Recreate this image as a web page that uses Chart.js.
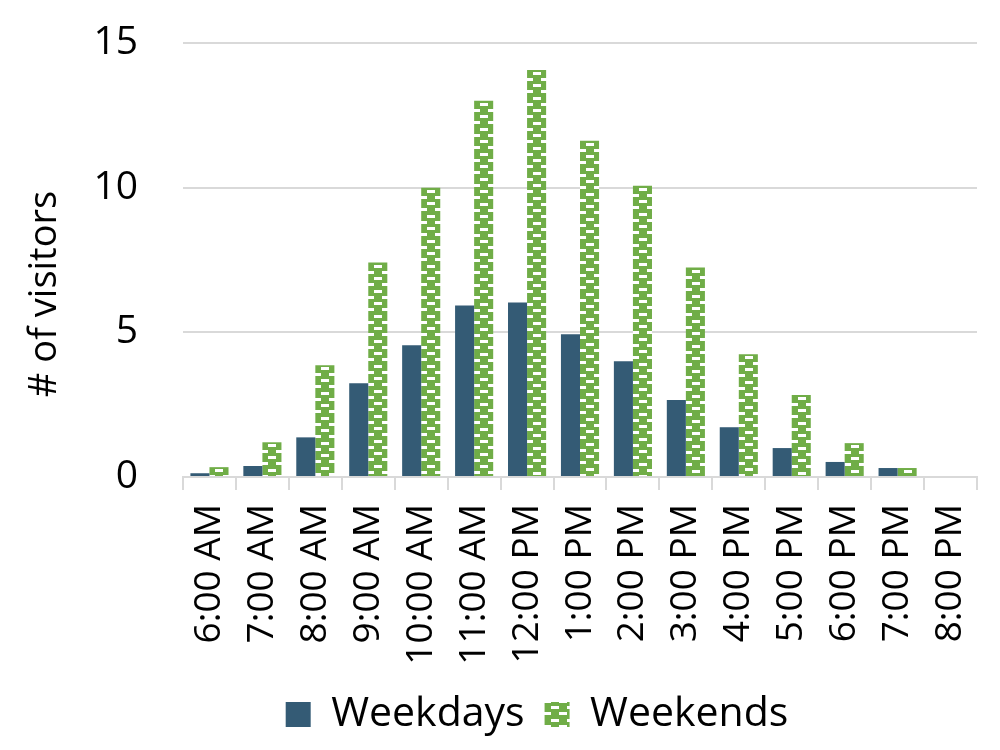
<!DOCTYPE html>
<html>
<head>
<meta charset="utf-8">
<script src="https://cdn.jsdelivr.net/npm/chart.js@4.4.1/dist/chart.umd.min.js"></script>
<style>
  html, body { margin: 0; padding: 0; background: #fff; }
  #wrap { width: 1000px; height: 750px; }
</style>
</head>
<body>
<div id="wrap"><canvas id="myChart" width="1000" height="750"></canvas></div>
<script>
const hours = ['6:00 AM', '7:00 AM', '8:00 AM', '9:00 AM', '10:00 AM', '11:00 AM', '12:00 PM',
  '1:00 PM', '2:00 PM', '3:00 PM', '4:00 PM', '5:00 PM', '6:00 PM', '7:00 PM', '8:00 PM'];
const weekdays = [0.13, 0.38, 1.37, 3.24, 4.55, 5.93, 6.03, 4.93, 4.0, 2.66, 1.72, 1.0, 0.52, 0.31, 0];
const weekends = [0.34, 1.2, 3.86, 7.41, 10.0, 13.0, 14.07, 11.62, 10.07, 7.24, 4.24, 2.83, 1.17, 0.31, 0];
const yTicks = [0, 5, 10, 15];

const FONT = "'Open Sans', sans-serif";
const GREEN = '#70ad47';
const BLUE = '#345b75';
const GRID = '#d9d9d9';

// brick-like tile: green with offset white dashes
function makeTile() {
  const c = document.createElement('canvas');
  c.width = 16;
  c.height = 25;
  const g = c.getContext('2d');
  g.fillStyle = GREEN;
  g.fillRect(0, 0, 16, 25);
  g.fillStyle = '#fff';
  [[2, 6], [8, 14], [14, 6], [20, 14]].forEach(([y, x]) => {
    g.fillRect(x, y, 8, 3);
    if (x + 8 > 16) g.fillRect(x - 16, y, 8, 3);
  });
  return c;
}
const tile = makeTile();

function brickFill(context) {
  const chart = context.chart;
  const pattern = chart.ctx.createPattern(tile, 'repeat');
  if (context.type === 'data' && chart.scales.x && chart.scales.y) {
    const left = chart.scales.x.getPixelForValue(context.dataIndex);
    const top = chart.scales.y.getPixelForValue(weekends[context.dataIndex]);
    pattern.setTransform(new DOMMatrix().translate(Math.round(left), Math.round(top)));
  }
  return pattern;
}

const yTitle = {
  id: 'yTitle',
  afterDraw(chart) {
    const { ctx } = chart;
    ctx.save();
    ctx.translate(45, 294);
    ctx.rotate(-Math.PI / 2);
    ctx.font = `38px ${FONT}`;
    ctx.fillStyle = '#000';
    ctx.textAlign = 'center';
    ctx.textBaseline = 'middle';
    ctx.fillText('# of visitors', 0, 0);
    ctx.restore();
  },
};

const ctx = document.getElementById('myChart').getContext('2d');
const chart = new Chart(ctx, {
  type: 'bar',
  data: {
    labels: hours,
    datasets: [{
      label: 'Weekdays',
      data: weekdays,
      backgroundColor: BLUE,
      borderWidth: 0,
    }, {
      label: 'Weekends',
      data: weekends,
      backgroundColor: brickFill,
      borderWidth: 0,
    }],
  },
  options: {
    responsive: false,
    animation: false,
    categoryPercentage: 0.72,
    barPercentage: 1,
    layout: { padding: { left: 97, right: 23, top: 43, bottom: 5 } },
    plugins: {
      tooltip: { enabled: false },
      legend: {
        position: 'bottom',
        labels: {
          boxWidth: 25,
          boxHeight: 25,
          padding: 20,
          color: '#000',
          font: { family: FONT, size: 41 },
        },
      },
    },
    scales: {
      x: {
        offset: true,
        afterFit(scale) {
          scale.height = 197;
          scale.paddingLeft = 0;
          scale.paddingRight = 0;
        },
        grid: {
          offset: true,
          drawOnChartArea: false,
          drawTicks: true,
          tickLength: 13,
          color: GRID,
          lineWidth: 2,
        },
        border: { display: true, color: GRID, width: 2 },
        ticks: {
          autoSkip: false,
          minRotation: 90,
          maxRotation: 90,
          padding: 14,
          color: '#000',
          font: { family: FONT, size: 37 },
        },
      },
      y: {
        min: 0,
        max: 15,
        afterFit(scale) {
          scale.width = 183 - 97;
          scale.paddingTop = 0;
          scale.paddingBottom = 0;
        },
        afterBuildTicks(scale) { scale.ticks = yTicks.map((v) => ({ value: v })); },
        grid: { color: GRID, lineWidth: 2, drawTicks: false },
        border: { display: false },
        ticks: {
          padding: 45,
          color: '#000',
          font: { family: FONT, size: 39 },
        },
      },
    },
  },
  plugins: [yTitle],
});
</script>
</body>
</html>
